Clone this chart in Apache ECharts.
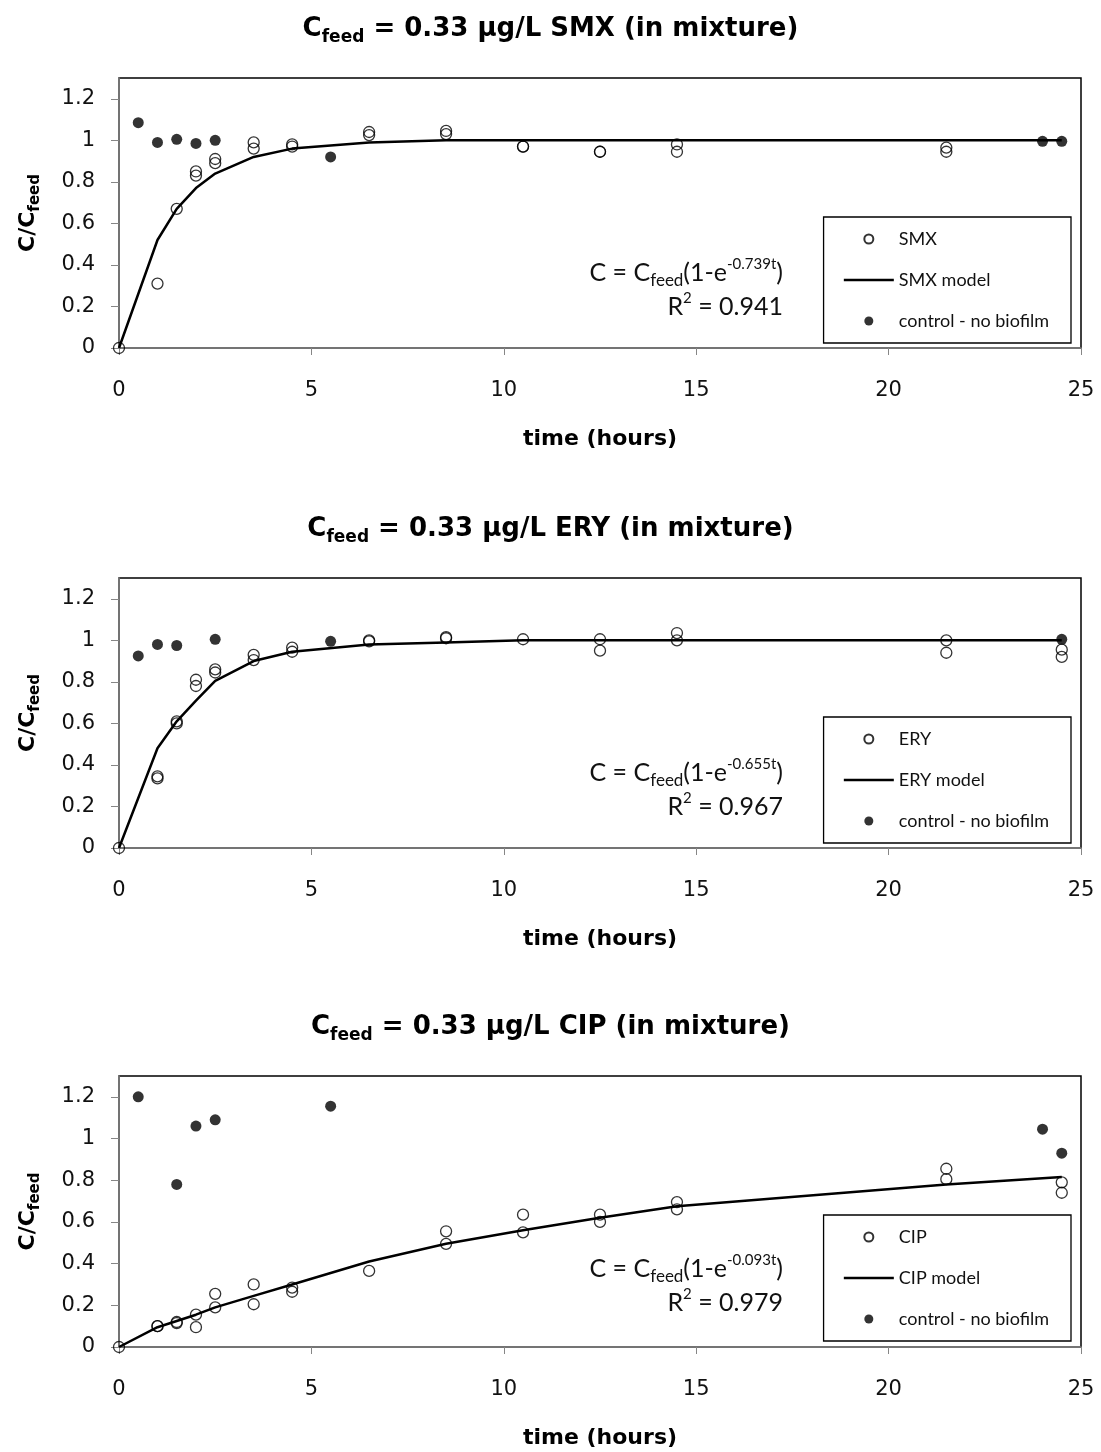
<!DOCTYPE html>
<html>
<head>
<meta charset="utf-8">
<script src="https://cdn.jsdelivr.net/npm/echarts@6/dist/echarts.min.js"></script>
<style>
  html, body { margin: 0; padding: 0; background: #fff; }
  #chart { width: 1101px; height: 1452px; }
</style>
</head>
<body>
<div id="chart"></div>
<script>
// ---- data ----
const xTicks = [0, 5, 10, 15, 20, 25]
const yTicks = [0, 0.2, 0.4, 0.6, 0.8, 1, 1.2]

// model curve vertices (hours)
const modelTime = [0, 1, 1.5, 2, 2.5, 3.5, 4.5, 6.5, 8.5, 10.5, 12.5, 14.5, 21.5, 24.5]

// SMX
const smxTime = [0, 1, 1.5, 2, 2, 2.5, 2.5, 3.5, 3.5, 4.5, 4.5, 6.5, 6.5, 8.5, 8.5, 10.5, 10.5, 12.5, 12.5, 14.5, 14.5, 21.5, 21.5]
const smxConc = [0, 0.31, 0.67, 0.85, 0.83, 0.91, 0.89, 0.99, 0.96, 0.98, 0.97, 1.04, 1.025, 1.045, 1.03, 0.97, 0.97, 0.945, 0.945, 0.98, 0.945, 0.965, 0.945]
const smxModel = [0, 0.52, 0.67, 0.77, 0.84, 0.92, 0.96, 0.99, 1.0, 1.0, 1.0, 1.0, 1.0, 1.0]
const smxCtrlTime = [0.5, 1, 1.5, 2, 2.5, 5.5, 24, 24.5]
const smxCtrl = [1.085, 0.99, 1.005, 0.985, 1.0, 0.92, 0.995, 0.995]

// ERY
const eryTime = [0, 1, 1, 1.5, 1.5, 2, 2, 2.5, 2.5, 3.5, 3.5, 4.5, 4.5, 6.5, 6.5, 8.5, 8.5, 10.5, 12.5, 12.5, 14.5, 14.5, 21.5, 21.5, 24.5, 24.5]
const eryConc = [0, 0.345, 0.335, 0.61, 0.6, 0.81, 0.78, 0.86, 0.845, 0.93, 0.905, 0.965, 0.945, 1.0, 0.995, 1.015, 1.01, 1.005, 1.005, 0.95, 1.035, 1.0, 1.0, 0.94, 0.955, 0.92]
const eryModel = [0, 0.48, 0.61, 0.71, 0.805, 0.9, 0.945, 0.98, 0.99, 1.0, 1.0, 1.0, 1.0, 1.0]
const eryCtrlTime = [0.5, 1, 1.5, 2.5, 5.5, 24.5]
const eryCtrl = [0.925, 0.98, 0.975, 1.005, 0.995, 1.005]

// CIP
const cipTime = [0, 1, 1, 1.5, 1.5, 2, 2, 2.5, 2.5, 3.5, 3.5, 4.5, 4.5, 6.5, 8.5, 8.5, 10.5, 10.5, 12.5, 12.5, 14.5, 14.5, 21.5, 21.5, 24.5, 24.5]
const cipConc = [0, 0.1, 0.1, 0.12, 0.115, 0.155, 0.095, 0.255, 0.19, 0.3, 0.205, 0.285, 0.265, 0.365, 0.555, 0.495, 0.635, 0.55, 0.635, 0.6, 0.695, 0.66, 0.855, 0.805, 0.79, 0.74]
const cipModel = [0, 0.095, 0.125, 0.155, 0.19, 0.245, 0.3, 0.41, 0.495, 0.56, 0.62, 0.675, 0.78, 0.815]
const cipCtrlTime = [0.5, 1.5, 2, 2.5, 5.5, 24, 24.5]
const cipCtrl = [1.2, 0.78, 1.06, 1.09, 1.155, 1.045, 0.93]

const drugs = ['SMX', 'ERY', 'CIP']
const rates = ['0.739', '0.655', '0.093']
const r2s = ['0.941', '0.967', '0.979']

// ---- layout ----
const gridTops = [78, 578, 1076]
const gridH = [270, 270, 271]
const titleTops = [12, 512, 1010]
const legendTops = [217, 717, 1215]
const eqY = [273, 773, 1269]
const r2Y = [307, 807, 1303]

const measured = [
  { t: smxTime, c: smxConc, m: smxModel, ct: smxCtrlTime, cc: smxCtrl },
  { t: eryTime, c: eryConc, m: eryModel, ct: eryCtrlTime, cc: eryCtrl },
  { t: cipTime, c: cipConc, m: cipModel, ct: cipCtrlTime, cc: cipCtrl },
]

const pairs = (t, v) => t.map((x, i) => [x, v[i]])
const AX = '#868686'
const boldFont = 'DejaVu Sans'

const chart = echarts.init(document.getElementById('chart'))

const grid = [], xAxis = [], yAxis = [], series = [], title = [], legend = [], graphic = []

drugs.forEach((drug, i) => {
  const d = measured[i]
  grid.push({
    left: 119, right: 20, top: gridTops[i], height: gridH[i],
    show: true, borderColor: '#000', borderWidth: 1.5, backgroundColor: '#fff',
  })
  xAxis.push({
    gridIndex: i, type: 'value', min: 0, max: 25, interval: 5,
    name: 'time (hours)', nameLocation: 'middle', nameGap: 78,
    nameTextStyle: { fontFamily: boldFont, fontWeight: 'bold', fontSize: 22, lineHeight: 26, color: '#000' },
    axisLine: { onZero: false, lineStyle: { color: AX, width: 1.5 } },
    axisTick: { length: 7, lineStyle: { color: AX } },
    axisLabel: { margin: 31, fontFamily: boldFont, fontSize: 21, lineHeight: 24, color: '#111' },
    splitLine: { show: false },
  })
  yAxis.push({
    gridIndex: i, type: 'value', min: 0, max: 1.3,
    name: '{c|C/C}{s|feed}', nameLocation: 'middle', nameRotate: 90, nameGap: 76,
    nameTextStyle: {
      rich: {
        c: { fontFamily: boldFont, fontWeight: 'bold', fontSize: 22, lineHeight: 30, verticalAlign: 'middle', color: '#000' },
        s: { fontFamily: boldFont, fontWeight: 'bold', fontSize: 15, lineHeight: 15, verticalAlign: 'bottom', color: '#000' },
      },
    },
    axisLine: { onZero: false, lineStyle: { color: AX, width: 1.5 } },
    axisTick: { length: 8, lineStyle: { color: AX }, customValues: yTicks },
    axisLabel: { margin: 24, fontFamily: boldFont, fontSize: 21, color: '#111', customValues: yTicks },
    splitLine: { show: false },
  })
  title.push({
    text: '{c|C}{s|feed}{c| = 0.33 μg/L ' + drug + ' (in mixture)}',
    left: 'center', top: titleTops[i], padding: 0,
    textStyle: {
      rich: {
        c: { fontFamily: boldFont, fontWeight: 'bold', fontSize: 26, lineHeight: 34, verticalAlign: 'middle', color: '#000' },
        s: { fontFamily: boldFont, fontWeight: 'bold', fontSize: 17, lineHeight: 17, verticalAlign: 'bottom', color: '#000' },
      },
    },
  })
  legend.push({
    data: [
      drug,
      { name: drug + ' model', itemStyle: { color: 'rgba(0,0,0,0)', borderWidth: 0, opacity: 0 } },
      'control - no biofilm',
    ],
    orient: 'vertical', right: 30, top: legendTops[i],
    padding: [12, 22, 12, 19], itemGap: 21, itemWidth: 50, itemHeight: 9,
    borderColor: '#000', borderWidth: 1.3, backgroundColor: '#fff',
    selectedMode: false,
    lineStyle: { width: 2.5, color: '#000' },
    textStyle: { fontFamily: 'Lato', fontSize: 18, lineHeight: 20, color: '#111' },
  })
  series.push(
    {
      name: drug, type: 'scatter', xAxisIndex: i, yAxisIndex: i,
      data: pairs(d.t, d.c), symbol: 'circle', symbolSize: 11, z: 3,
      itemStyle: { color: 'rgba(255,255,255,0)', borderColor: '#000', borderWidth: 1.3 },
    },
    {
      name: drug + ' model', type: 'line', xAxisIndex: i, yAxisIndex: i,
      data: pairs(modelTime, d.m), symbol: 'none', showSymbol: false, z: 2,
      lineStyle: { color: '#000', width: 2.5 }, itemStyle: { color: '#000' },
    },
    {
      name: 'control - no biofilm', type: 'scatter', xAxisIndex: i, yAxisIndex: i,
      data: pairs(d.ct, d.cc), symbol: 'circle', symbolSize: 11, z: 4,
      itemStyle: { color: '#000' },
    }
  )
  const eqRich = {
    a: { fontFamily: 'Lato', fontSize: 25, lineHeight: 32, verticalAlign: 'middle', fill: '#111' },
    s: { fontFamily: 'Lato', fontSize: 17, lineHeight: 16, verticalAlign: 'bottom', fill: '#111' },
    p: { fontFamily: 'Lato', fontSize: 15, lineHeight: 15, verticalAlign: 'top', fill: '#111' },
  }
  graphic.push(
    {
      type: 'text', x: 783, y: eqY[i], z: 10,
      style: { text: '{a|C = C}{s|feed}{a|(1-e}{p|-' + rates[i] + 't}{a|)}', rich: eqRich, align: 'right', verticalAlign: 'middle' },
    },
    {
      type: 'text', x: 783, y: r2Y[i], z: 10,
      style: { text: '{a|R}{p|2}{a| = ' + r2s[i] + '}', rich: eqRich, align: 'right', verticalAlign: 'middle' },
    }
  )
})

chart.setOption({
  animation: false,
  backgroundColor: '#fff',
  title, legend, grid, xAxis, yAxis, series, graphic,
})
</script>
</body>
</html>
